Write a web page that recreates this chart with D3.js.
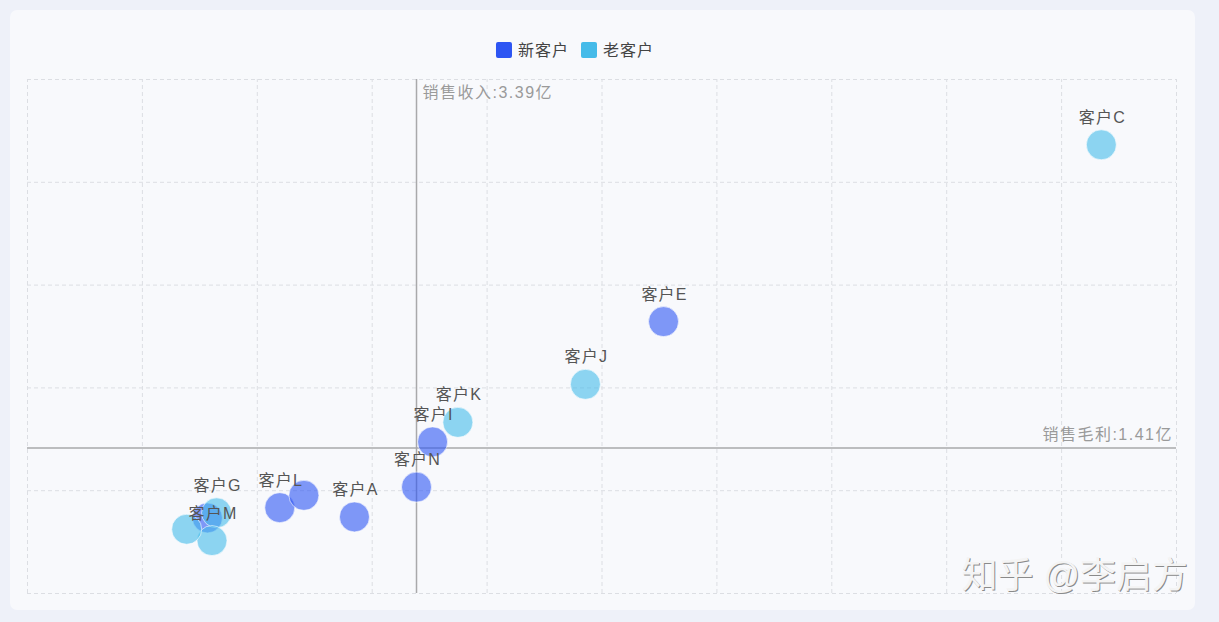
<!DOCTYPE html>
<html>
<head>
<meta http-equiv="Content-Type" content="text/html; charset=UTF-8">
<title>客户分布散点图</title>
<script src="https://cdn.jsdelivr.net/npm/d3@7"></script>
<style>
  html, body { margin: 0; padding: 0; background: #eef1f9; }
  text { font-family: "Liberation Sans", "Noto Sans CJK SC", sans-serif; }
</style>
</head>
<body>

<div class="container"></div>

<script>
// customers, revenue (x, 亿) and gross profit (y, 亿)
var customers = ["客户C", "客户E", "客户J", "客户K", "客户I", "客户N", "客户A",
                 "客户L", "客户B", "客户G", "客户M", "客户D", "客户F"];
var revenue   = [9.35, 5.54, 4.86, 3.75, 3.53, 3.39, 2.85, 2.20, 2.41, 1.65, 1.61, 1.39, 1.57];
var profit    = [4.36, 2.64, 2.03, 1.66, 1.47, 1.03, 0.74, 0.83, 0.95, 0.78, 0.51, 0.62, 0.73];
var types     = ["老客户", "新客户", "老客户", "老客户", "新客户", "新客户", "新客户",
                 "新客户", "新客户", "老客户", "老客户", "老客户", "新客户"];

// labels that the chart hides because they overlap
var hiddenLabels = ["客户B", "客户D", "客户F"];

var seriesNames = ["新客户", "老客户"];
var xTicks = [0, 1, 2, 3, 4, 5, 6, 7, 8, 9, 10];
var yTicks = [0, 1, 2, 3, 4, 5];

// average lines
var avgRevenue = 3.39, avgProfit = 1.41;

var width = 1219, height = 622;
var margin = {left: 27, right: 43, top: 79, bottom: 29};

var color = d3.scaleOrdinal()
    .domain(seriesNames)
    .range(["#2d55f3", "#45bbe9"]);

var x = d3.scaleLinear()
    .domain([d3.min(xTicks), d3.max(xTicks)])
    .range([margin.left, width - margin.right]);

var y = d3.scaleLinear()
    .domain([d3.min(yTicks), d3.max(yTicks)])
    .range([height - margin.bottom, margin.top]);

var svg = d3.select(".container")
    .append("svg")
        .attr("width", width)
        .attr("height", height)
        .style("display", "block");

// card background
svg.append("rect")
    .attr("x", 10).attr("y", 10)
    .attr("width", 1185).attr("height", 600)
    .attr("rx", 7)
    .attr("fill", "#f8f9fc");

// dashed grid drawn with the axes
svg.append("g")
    .attr("class", "grid-x")
    .attr("transform", "translate(0," + y(0) + ")")
    .call(d3.axisBottom(x).tickValues(xTicks).tickSize(-(y(0) - y(5))).tickFormat(""))
    .call(function(g) { g.select(".domain").remove(); });

svg.append("g")
    .attr("class", "grid-y")
    .attr("transform", "translate(" + x(0) + ",0)")
    .call(d3.axisLeft(y).tickValues(yTicks).tickSize(-(x(10) - x(0))).tickFormat(""))
    .call(function(g) { g.select(".domain").remove(); });

svg.selectAll(".grid-x line, .grid-y line")
    .attr("stroke", "#dcdee3")
    .attr("stroke-width", 1)
    .attr("stroke-dasharray", "4,3");

// average lines
svg.append("line")
    .attr("x1", x(avgRevenue)).attr("x2", x(avgRevenue))
    .attr("y1", y(5)).attr("y2", y(0))
    .attr("stroke", "#a9a9ab").attr("stroke-width", 1.5);

svg.append("line")
    .attr("x1", x(0)).attr("x2", x(10))
    .attr("y1", y(avgProfit)).attr("y2", y(avgProfit))
    .attr("stroke", "#a9a9ab").attr("stroke-width", 1.5);

svg.append("text")
    .attr("x", x(avgRevenue) + 6)
    .attr("y", y(5) + 19)
    .attr("font-size", 16)
    .attr("letter-spacing", 1.5)
    .attr("fill", "#9a9a9a")
    .text("销售收入:" + avgRevenue + "亿");

svg.append("text")
    .attr("x", x(10) - 3)
    .attr("y", y(avgProfit) - 8)
    .attr("text-anchor", "end")
    .attr("font-size", 16)
    .attr("letter-spacing", 1.5)
    .attr("fill", "#9a9a9a")
    .text("销售毛利:" + avgProfit + "亿");

// build point list, 新客户 drawn first so 老客户 sit on top
var points = customers.map(function(name, i) {
    return {name: name, x: revenue[i], y: profit[i], type: types[i]};
});
points.sort(function(a, b) {
    return seriesNames.indexOf(a.type) - seriesNames.indexOf(b.type);
});

svg.append("g")
    .selectAll("circle")
    .data(points)
    .enter().append("circle")
        .attr("cx", function(d) { return x(d.x); })
        .attr("cy", function(d) { return y(d.y); })
        .attr("r", 15)
        .attr("fill", function(d) { return color(d.type); })
        .attr("fill-opacity", 0.6)
        .attr("stroke", "#ffffff")
        .attr("stroke-opacity", 0.6)
        .attr("stroke-width", 1);

svg.append("g")
    .selectAll("text")
    .data(points.filter(function(d) { return hiddenLabels.indexOf(d.name) < 0; }))
    .enter().append("text")
        .attr("x", function(d) { return x(d.x) + 1; })
        .attr("y", function(d) { return y(d.y) - 22; })
        .attr("text-anchor", "middle")
        .attr("font-size", 16)
        .attr("letter-spacing", 1.2)
        .attr("fill", "#555")
        .text(function(d) { return d.name; });

// legend, centred over the plot
var legend = svg.append("g");
var lx = 0;
seriesNames.forEach(function(name) {
    var item = legend.append("g").attr("transform", "translate(" + lx + ",0)");
    item.append("rect")
        .attr("x", 0).attr("y", -8)
        .attr("width", 16).attr("height", 16)
        .attr("rx", 2)
        .attr("fill", color(name));
    var t = item.append("text")
        .attr("x", 22).attr("y", 6)
        .attr("font-size", 16)
        .attr("letter-spacing", 1)
        .attr("fill", "#444")
        .text(name);
    lx += 22 + t.node().getComputedTextLength() + 12;
});
legend.attr("transform", "translate(" + (575 - (lx - 12) / 2) + ",50)");

// watermark
var wm = "知乎 @李启方";
svg.append("text")
    .attr("x", 1189).attr("y", 589)
    .attr("text-anchor", "end")
    .attr("font-size", 36)
    .attr("fill", "#8a8a8a")
    .text(wm);
svg.append("text")
    .attr("x", 1188).attr("y", 588)
    .attr("text-anchor", "end")
    .attr("font-size", 36)
    .attr("fill", "#f4f4f4")
    .text(wm);
</script>
</body>
</html>
